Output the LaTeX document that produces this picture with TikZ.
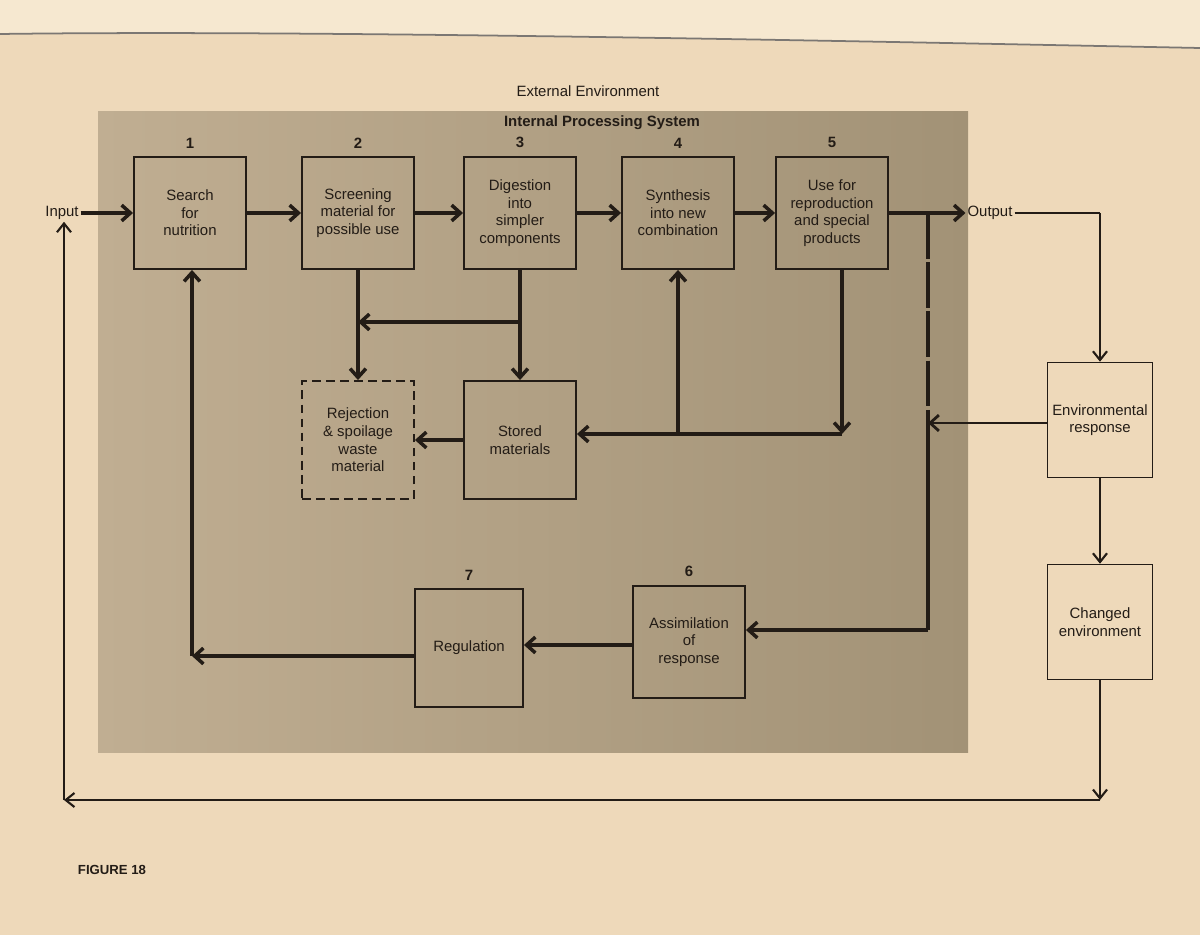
\documentclass[tikz,border=0pt]{standalone}
\usepackage{fontspec}
\setmainfont{Liberation Sans}
\usetikzlibrary{arrows.meta}
\definecolor{page}{RGB}{238,217,186}
\definecolor{pagetop}{RGB}{246,232,208}
\definecolor{greyL}{RGB}{192,174,146}
\definecolor{greyR}{RGB}{162,146,118}
\definecolor{ink}{RGB}{35,28,22}
\begin{document}
\begin{tikzpicture}[x=0.02cm,y=-0.02cm,
  box/.style={draw=ink, line width=1.1pt, align=center, text=ink,
    font=\fontsize{8.5}{10}\selectfont, minimum width=2.24cm, minimum height=2.24cm, inner sep=2pt},
  outbox/.style={box, line width=0.9pt, minimum width=2.1cm, minimum height=2.3cm},
  num/.style={font=\fontsize{8.5}{10}\selectfont\bfseries, text=ink},
  lbl/.style={font=\fontsize{8.5}{10}\selectfont, text=ink, inner sep=1pt},
  flow/.style={draw=ink, line width=2pt, -{Straight Barb[length=5pt,width=9pt]}},
  plainflow/.style={draw=ink, line width=2pt},
  outflow/.style={draw=ink, line width=1.2pt, -{Straight Barb[length=5pt,width=8pt]}},
  outline/.style={draw=ink, line width=1.2pt}]
\useasboundingbox (0,0) rectangle (1200,935);
% page
\fill[page] (0,0) rectangle (1200,935);
\fill[pagetop] (0,0) -- (1200,0) -- (1200,48) .. controls (800,40) and (300,30) .. (0,34) -- cycle;
\draw[ink!60, line width=1pt] (0,34) .. controls (300,30) and (800,40) .. (1200,48);
% internal processing area
\shade[left color=greyL, right color=greyR] (98,112) rectangle (968,752);

\node[lbl] (ext) at (588,91) {External Environment};
\node[lbl, font=\fontsize{8.5}{10}\selectfont\bfseries] (ips) at (602,123) {Internal Processing System};

% top row
\node[box, label={[num,label distance=1pt]above:1}] (b1) at (190,213) {Search\\for\\nutrition};
\node[box, label={[num,label distance=1pt]above:2}] (b2) at (358,213) {Screening\\material for\\possible use};
\node[box, label={[num,label distance=1pt]above:3}] (b3) at (520,213) {Digestion\\into\\simpler\\components};
\node[box, label={[num,label distance=1pt]above:4}] (b4) at (678,213) {Synthesis\\into new\\combination};
\node[box, label={[num,label distance=1pt]above:5}] (b5) at (832,213) {Use for\\reproduction\\and special\\products};

% middle row
\node[box, dashed, dash pattern=on 5pt off 3pt, minimum height=2.36cm] (rej) at (358,440) {Rejection\\\& spoilage\\waste\\material};
\node[box, minimum height=2.36cm] (sto) at (520,440) {Stored\\materials};

% bottom row
\node[box, label={[num,label distance=1pt]above:6}] (b6) at (689,642) {Assimilation\\of\\response};
\node[box, minimum width=2.16cm, minimum height=2.36cm, label={[num,label distance=1pt]above:7}] (b7) at (469,648) {Regulation};

% outside
\node[lbl] (in) at (62,213) {Input};
\node[lbl] (out) at (990,213) {Output};
\node[outbox] (env) at (1100,420) {Environmental\\response};
\node[outbox] (chg) at (1100,622) {Changed\\environment};
\node[font=\fontsize{7.5}{9}\selectfont\bfseries, text=ink] (fig) at (112,870) {FIGURE 18};

\coordinate (j23) at (358,322);
\coordinate (j3) at (520,322);
\coordinate (r5) at (842,434);
\coordinate (r4) at (678,434);
\coordinate (dtop) at (928,213);
\coordinate (dmid) at (928,423);
\coordinate (dbot) at (928,630);
\coordinate (r7) at (192,656);
\coordinate (oc) at (1100,213);
\coordinate (cb) at (1100,800);
\coordinate (lb) at (64,800);

% main flow
\draw[flow] (in.east) -- (b1.west);
\draw[flow] (b1.east) -- (b2.west);
\draw[flow] (b2.east) -- (b3.west);
\draw[flow] (b3.east) -- (b4.west);
\draw[flow] (b4.east) -- (b5.west);
\draw[flow] (b5.east) -- (out.west);

% screening / digestion to rejection & storage
\draw[flow] (b2.south) -- (rej.north);
\draw[flow] (b3.south) -- (sto.north);
\draw[flow] (j3) -- (j23);
\draw[flow] (sto.west) -- (rej.east);

% return from 5 to storage and synthesis
\draw[flow] (b5.south -| r5) -- (r5);
\draw[flow] (r5) -- (sto.east |- r5);
\draw[flow] (r4) -- (b4.south);

% feedback of output
\draw[plainflow, dash pattern=on 26pt off 2pt] (dtop) -- (dmid);
\draw[plainflow] (dmid) -- (dbot);
\draw[flow] (dbot) -- (b6.east |- dbot);
\draw[outline, line width=1.6pt, -{Straight Barb[length=5pt,width=9pt]}] (env.west |- dmid) -- (dmid);

% bottom row flow
\draw[flow] (b6.west |- 0,645) -- (b7.east |- 0,645);
\draw[flow] (b7.west |- r7) -- (r7);
\draw[flow] (r7) -- (b1.south -| r7);

% environment loop
\draw[outline] (out.east) -- (oc);
\draw[outflow] (oc) -- (env.north);
\draw[outflow] (env.south) -- (chg.north);
\draw[outflow] (chg.south) -- (cb);
\draw[outflow] (cb) -- (lb);
\draw[outflow] (lb) -- (in.south -| lb);
\end{tikzpicture}
\end{document}
